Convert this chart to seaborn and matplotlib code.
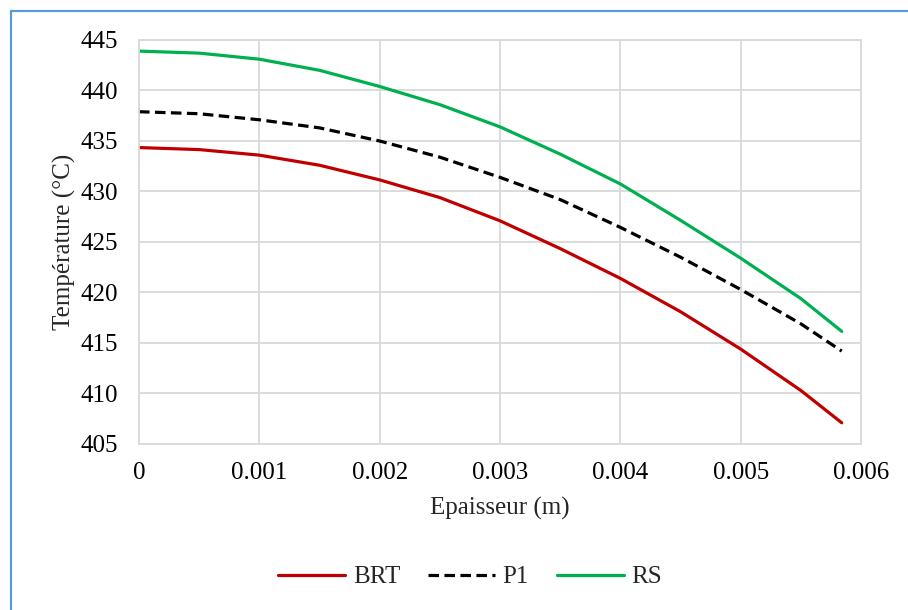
import matplotlib
matplotlib.use("Agg")
import matplotlib.pyplot as plt
import seaborn as sns
import pandas as pd
from matplotlib.lines import Line2D

# Data
epaisseur = [0.0, 0.0005, 0.001, 0.0015, 0.002, 0.0025, 0.003, 0.0035,
             0.004, 0.0045, 0.005, 0.0055, 0.00584]
brt = [434.35, 434.15, 433.6, 432.6, 431.15, 429.4, 427.1, 424.35,
       421.4, 418.1, 414.4, 410.3, 407.1]
p1 = [437.9, 437.7, 437.1, 436.3, 435.0, 433.4, 431.4, 429.2,
      426.45, 423.5, 420.3, 416.9, 414.2]
rs = [443.9, 443.7, 443.1, 442.0, 440.4, 438.6, 436.4, 433.7,
      430.75, 427.15, 423.4, 419.4, 416.15]
series_names = ["BRT", "P1", "RS"]
colors = ["#C00000", "#000000", "#00B050"]
x_ticks = [0, 0.001, 0.002, 0.003, 0.004, 0.005, 0.006]
x_tick_labels = ["0", "0.001", "0.002", "0.003", "0.004", "0.005", "0.006"]
y_ticks = [405, 410, 415, 420, 425, 430, 435, 440, 445]

sns.set_theme(style="white")
plt.rcParams["font.family"] = ["Liberation Serif", "DejaVu Serif"]
FS = 18

fig = plt.figure(figsize=(9.08, 6.10), dpi=100)
ax = fig.add_axes([139/908, 1-444/610, (861-139)/908, (444-40)/610])

rows = []
for name, vals in zip(series_names, [brt, p1, rs]):
    for xv, yv in zip(epaisseur, vals):
        rows.append({"x": xv, "y": yv, "s": name})
df = pd.DataFrame(rows)

for name, col in zip(series_names, colors):
    sub = df[df["s"] == name]
    kw = {}
    if name == "P1":
        kw = dict(dashes=(3.3, 1.7))
    sns.lineplot(data=sub, x="x", y="y", ax=ax, color=col, lw=2.3,
                 label=name, sort=True, **kw)
for ln in ax.get_lines():
    ln.set_dash_capstyle("butt")
    ln.set_solid_capstyle("round")
    ln.set_solid_joinstyle("round")
    ln.set_dash_joinstyle("round")

ax.set_xlim(0, 0.006)
ax.set_ylim(405, 445)
ax.set_xticks(x_ticks)
ax.set_xticklabels(x_tick_labels)
ax.set_yticks(y_ticks)
ax.grid(True, color="#d9d9d9", lw=1.3)
ax.set_axisbelow(True)
for sp in ax.spines.values():
    sp.set_color("#d9d9d9")
    sp.set_linewidth(1.3)
ax.tick_params(axis="both", length=0, labelsize=FS, colors="#000000")
ax.tick_params(axis="y", pad=15)
ax.tick_params(axis="x", pad=13)
ax.set_xlabel("Epaisseur (m)", fontsize=FS, labelpad=9)
ax.set_ylabel("Température (°C)", fontsize=FS, labelpad=3)

leg = ax.legend(loc="center", bbox_to_anchor=(470/908, 1-577/610),
                bbox_transform=fig.transFigure, ncol=3, frameon=False,
                fontsize=FS, handlelength=2.7, handletextpad=0.3,
                columnspacing=1.1)

# light blue chart border (top and left visible)
fig.add_artist(Line2D([10.5/908, 1.05], [1-10.5/610, 1-10.5/610],
                      transform=fig.transFigure, color="#5B9BD5", lw=1.6))
fig.add_artist(Line2D([10.5/908, 10.5/908], [-0.05, 1-10.5/610],
                      transform=fig.transFigure, color="#5B9BD5", lw=1.6))

fig.savefig("out.png", dpi=100)
